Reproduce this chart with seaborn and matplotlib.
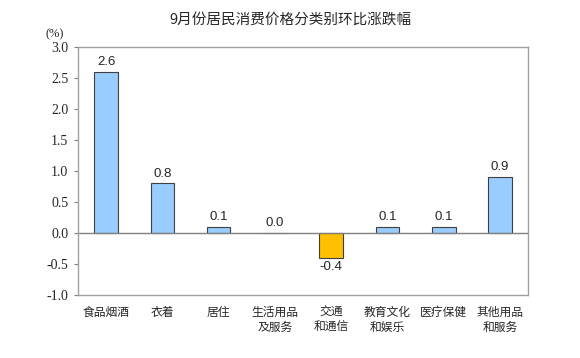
import matplotlib
matplotlib.use('Agg')
import matplotlib.pyplot as plt
import pandas as pd
import seaborn as sns

# data
categories = ['食品烟酒', '衣着', '居住', '生活用品\n及服务', '交通\n和通信',
              '教育文化\n和娱乐', '医疗保健', '其他用品\n和服务']
values = [2.6, 0.8, 0.1, 0.0, -0.4, 0.1, 0.1, 0.9]
y_ticks = [-1.0, -0.5, 0.0, 0.5, 1.0, 1.5, 2.0, 2.5, 3.0]
title = '9月份居民消费价格分类别环比涨跌幅'

df = pd.DataFrame({'category': categories, 'value': values})
df['sign'] = ['up' if v >= 0 else 'down' for v in values]

sns.set_style('white')
plt.rcParams['font.family'] = ['Noto Sans CJK SC', 'DejaVu Sans']

fig = plt.figure(figsize=(5.8, 3.58), dpi=100)
ax = fig.add_axes([0.1345, 0.176, 0.776, 0.693])

sns.barplot(data=df, x='category', y='value', hue='sign',
            palette={'up': '#99CCFF', 'down': '#FFC000'}, saturation=1,
            dodge=False, width=0.42, edgecolor='#404040', linewidth=0.8,
            legend=False, ax=ax)

# value labels
for i, v in enumerate(values):
    if v >= 0:
        ax.text(i, v + 0.06, f'{v:.1f}', ha='center', va='bottom',
                fontsize=9.5, family='Liberation Sans')
    else:
        ax.text(i, v - 0.06, f'{v:.1f}', ha='center', va='top',
                fontsize=9.5, family='Liberation Sans')

ax.axhline(0, color='#808080', linewidth=1)
ax.set_ylim(-1.0, 3.0)
ax.set_xlim(-0.5, len(categories) - 0.5)
ax.set_yticks(y_ticks)
ax.set_yticklabels([f'{t:.1f}' for t in y_ticks], family='Liberation Serif',
                   fontsize=10)
ax.tick_params(axis='y', length=3, color='#808080', pad=4, left=True)
ax.tick_params(axis='x', length=0, pad=8, labelsize=8.5)
ax.set_xlabel('')
ax.set_ylabel('')
for s in ax.spines.values():
    s.set_color('#A0A0A0')
    s.set_linewidth(1)

fig.text(0.5, 0.945, title, ha='center', va='center', fontsize=10.5)
fig.text(0.095, 0.905, '(%)', ha='center', va='center', fontsize=9,
         family='Liberation Serif')

plt.savefig('out.png', dpi=100)
